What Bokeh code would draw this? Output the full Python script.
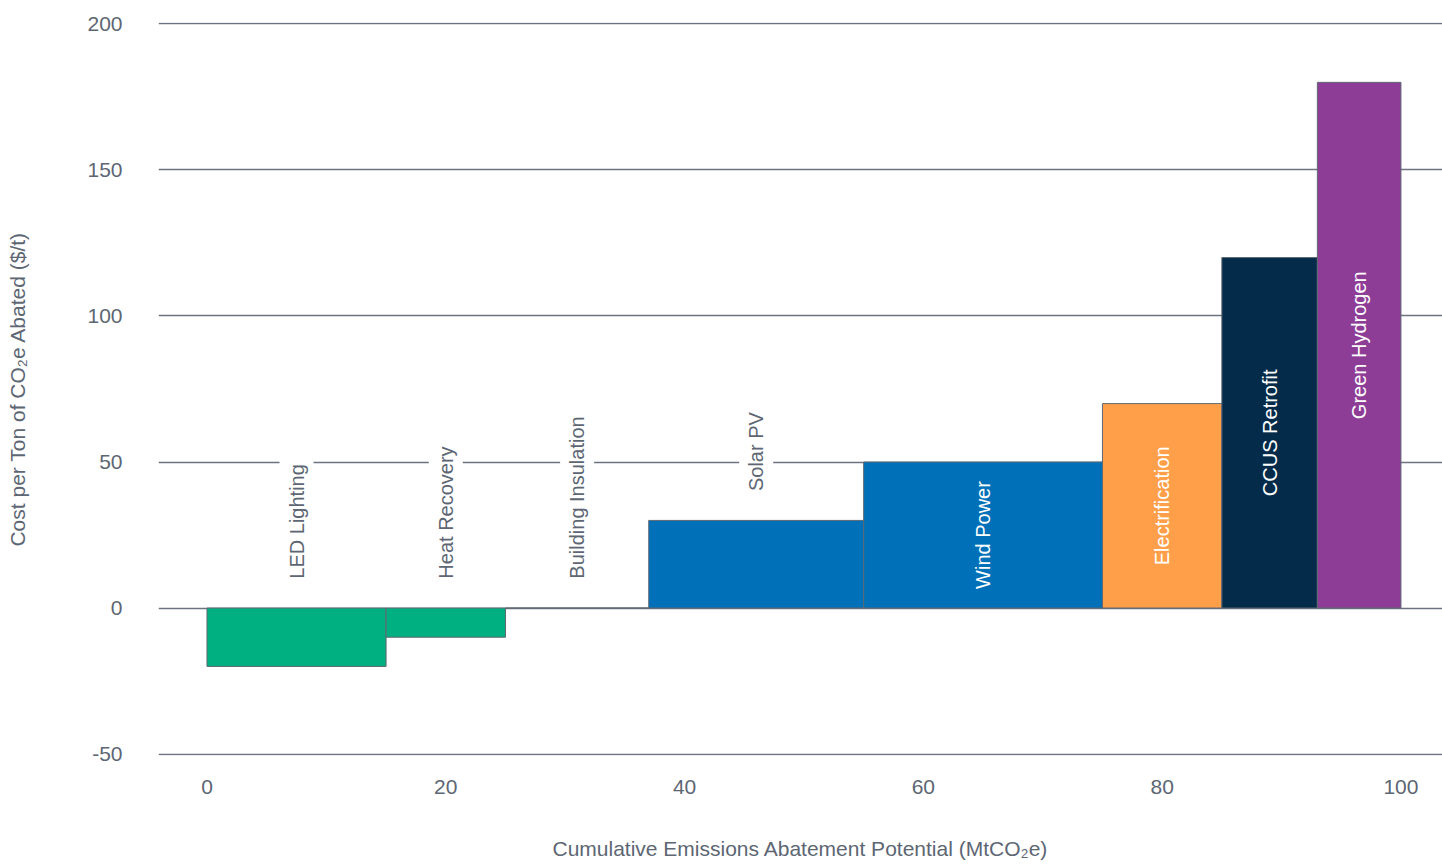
import numpy as np
from bokeh.plotting import figure
from bokeh.models import ColumnDataSource, FixedTicker, Range1d
from bokeh.core.properties import value
from bokeh.embed import file_html
from bokeh.resources import INLINE

# ---- data ----
measures = ["LED Lighting", "Heat Recovery", "Building Insulation", "Solar PV",
            "Wind Power", "Electrification", "CCUS Retrofit", "Green Hydrogen"]
potential = [15, 10, 12, 18, 20, 10, 8, 7]          # MtCO2e (bar widths)
cost = [-20, -10, 0, 30, 50, 70, 120, 180]           # $/t
colors = ["#00B080", "#00B080", "#00B080", "#0070B8", "#0070B8",
          "#FF9F4A", "#042B4A", "#8E3D97"]
inside_label = [False, False, False, False, True, True, True, True]
x_ticks = [0, 20, 40, 60, 80, 100]
y_ticks = [-50, 0, 50, 100, 150, 200]

right = np.cumsum(potential)
left = right - np.array(potential)
mid = (left + right) / 2
cost_arr = np.array(cost, dtype=float)
bottom = np.minimum(cost_arr, 0)
top = np.maximum(cost_arr, 0)

src = ColumnDataSource(dict(left=left, right=right, bottom=bottom, top=top,
                            color=colors, name=measures))

FONT = "Liberation Sans"
GRAY = "#5d6673"

p = figure(width=1442, height=862, output_backend="svg", toolbar_location=None,
           x_range=Range1d(-4.06, 103.48), y_range=Range1d(-50.5, 200.5),
           min_border_left=158, min_border_right=0, min_border_top=22,
           min_border_bottom=105)
p.outline_line_color = None
p.background_fill_color = "white"

p.quad(left="left", right="right", bottom="bottom", top="top", source=src,
       fill_color="color", line_color="#5f6874", line_width=1)

# outside labels (white background boxes)
out_idx = [i for i, f in enumerate(inside_label) if not f]
in_idx = [i for i, f in enumerate(inside_label) if f]
out_src = ColumnDataSource(dict(x=mid[out_idx], y=top[out_idx] + 8,
                                text=[measures[i] for i in out_idx]))
p.text(x="x", y="y", text="text", source=out_src, angle=np.pi / 2,
       text_align="left", text_baseline="middle", text_color=GRAY,
       text_font=value(FONT), text_font_size="20px",
       background_fill_color="white", padding=6)

in_src = ColumnDataSource(dict(x=mid[in_idx], y=top[in_idx] / 2,
                               text=[measures[i] for i in in_idx]))
p.text(x="x", y="y", text="text", source=in_src, angle=np.pi / 2,
       text_align="center", text_baseline="middle", text_color="white",
       text_font=value(FONT), text_font_size="20px")

# axes
p.xaxis.ticker = FixedTicker(ticks=x_ticks)
p.yaxis.ticker = FixedTicker(ticks=y_ticks)
p.yaxis.major_label_overrides = {-50: "-50"}
for ax in (p.xaxis, p.yaxis):
    ax.axis_line_color = None
    ax.major_tick_line_color = None
    ax.minor_tick_line_color = None
    ax.major_label_text_font = FONT
    ax.major_label_text_font_size = "21px"
    ax.major_label_text_color = GRAY
    ax.axis_label_text_font = FONT
    ax.axis_label_text_font_size = "21px"
    ax.axis_label_text_color = GRAY
    ax.axis_label_text_font_style = "normal"

p.xaxis.axis_label = "Cumulative Emissions Abatement Potential (MtCO₂e)"
p.yaxis.axis_label = "Cost per Ton of CO₂e Abated ($/t)"
p.xaxis.major_label_standoff = 18
p.xaxis.axis_label_standoff = 40
p.yaxis.major_label_standoff = 30
p.yaxis.axis_label_standoff = 55

p.xgrid.grid_line_color = None
p.ygrid.ticker = FixedTicker(ticks=y_ticks)
p.ygrid.grid_line_color = "#6b7380"
p.ygrid.grid_line_width = 1.3
p.ygrid.level = "underlay"

open("out.html", "w").write(file_html(p, INLINE))
